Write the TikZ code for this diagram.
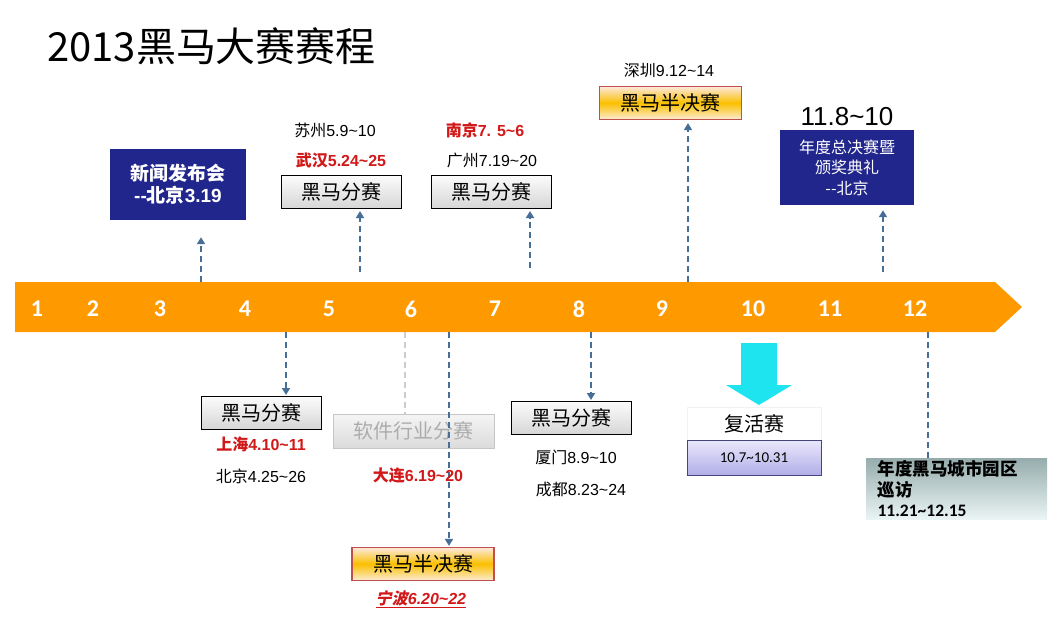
\documentclass[tikz,border=0pt]{standalone}
\usepackage{fontspec}
\setmainfont{Liberation Sans}
\newfontfamily\cjk{Noto Sans CJK SC}
\newfontfamily\cjkit[FakeSlant=0.2]{Noto Sans CJK SC}
\newfontfamily\calfont{Carlito}
\usetikzlibrary{arrows.meta}
\newcommand{\zh}[1]{{\cjk #1}}
\newcommand{\tld}{\textasciitilde}
\definecolor{bandorange}{RGB}{255,153,0}
\definecolor{navybox}{RGB}{33,38,140}
\definecolor{redtxt}{RGB}{210,25,25}
\definecolor{dashblue}{RGB}{70,110,150}
\definecolor{semired}{RGB}{192,80,77}
\definecolor{cyanarrow}{RGB}{30,228,240}
\begin{document}
\begin{tikzpicture}[x=1pt, y=-1pt,
        month/.style={text=white, font=\calfont\bfseries\fontsize{24}{26}\selectfont},
        lbl/.style={inner sep=0pt, font=\fontsize{16}{18}\selectfont},
        redlbl/.style={inner sep=0pt, text=redtxt, font=\bfseries\fontsize{16}{18}\selectfont},
        navy/.style={rectangle, fill=navybox, text=white, align=center, inner sep=0pt},
        heat/.style={rectangle, draw, line width=1pt, top color=gray!3, bottom color=gray!32, minimum width=120pt, minimum height=33pt, inner sep=0pt, font=\cjk\fontsize{20}{22}\selectfont},
        semi/.style={rectangle, draw=semired, line width=1.2pt, top color={rgb,255:red,253;green,232;blue,220}, bottom color={rgb,255:red,253;green,236;blue,215}, middle color={rgb,255:red,250;green,192;blue,0}, minimum width=142pt, minimum height=33pt, inner sep=0pt, font=\cjk\fontsize{20}{22}\selectfont},
        line/.style={draw=dashblue, line width=1.8pt, dash pattern=on 6pt off 4pt, ->, >={Stealth[length=7pt, width=8pt, inset=0pt]}},
        dline/.style={draw=dashblue, line width=1.8pt, dash pattern=on 6pt off 4pt}
    ]
        \useasboundingbox (0,0) rectangle (1058,621);
        \node[anchor=west, inner sep=0pt, font=\cjk\fontsize{40}{44}\selectfont] (title) at (47,46) {2013黑马大赛赛程};

        % timeline band
        \fill[bandorange] (15,282) -- (995,282) -- (1022,307) -- (995,332) -- (15,332) -- cycle;
        \node[month] (m1) at (37,309) {1};
        \node[month] (m2) at (93,309) {2};
        \node[month] (m3) at (160,309) {3};
        \node[month] (m4) at (245,309) {4};
        \node[month] (m5) at (329,309) {5};
        \node[month] (m6) at (411,309) {6};
        \node[month] (m7) at (495,309) {7};
        \node[month] (m8) at (579,309) {8};
        \node[month] (m9) at (662,309) {9};
        \node[month] (m10) at (753,309) {10};
        \node[month] (m11) at (830,309) {11};
        \node[month] (m12) at (915,309) {12};

        % above the band
        \node[navy, minimum width=136pt, minimum height=71pt, font=\bfseries\fontsize{19}{22}\selectfont] (press) at (178,184.5) {\zh{新闻发布会}\\-{}-\zh{北京}3.19};
        \node[lbl] (suzhou) at (335,130) {\zh{苏州}5.9\tld10};
        \node[redlbl] (wuhan) at (341,160) {\zh{武汉}5.24\tld25};
        \node[heat] (heatmay) at (341,192) {黑马分赛};
        \node[redlbl] (nanjing) at (485,130) {\zh{南京}7. 5\tld6};
        \node[lbl] (guangzhou) at (492,160) {\zh{广州}7.19\tld20};
        \node[heat] (heatjul) at (491.5,192) {黑马分赛};
        \node[lbl] (shenzhen) at (669,70) {\zh{深圳}9.12\tld14};
        \node[semi] (semisep) at (670.5,103) {黑马半决赛};
        \node[inner sep=0pt, font=\fontsize{26}{28}\selectfont] (finaldate) at (847,117) {11.8\tld10};
        \node[navy, minimum width=134pt, minimum height=75pt, font=\cjk\fontsize{16}{20.5}\selectfont] (final) at (847,167.5) {年度总决赛暨\\颁奖典礼\\-{}-北京};

        \coordinate (s3) at (201,282);
        \coordinate (s5) at (360,272);
        \coordinate (s7) at (530,268);
        \coordinate (s9) at (688,282);
        \coordinate (s11) at (883,272);
        \draw[line, shorten >=17pt] (s3) -- (s3 |- press.south);
        \draw[line, shorten >=2pt] (s5) -- (s5 |- heatmay.south);
        \draw[line, shorten >=2pt] (s7) -- (s7 |- heatjul.south);
        \draw[line, shorten >=3pt] (s9) -- (s9 |- semisep.south);
        \draw[line, shorten >=5pt] (s11) -- (s11 |- final.south);

        % below the band
        \node[heat] (heatapr) at (261,413) {黑马分赛};
        \node[redlbl] (shanghai) at (261,444) {\zh{上海}4.10\tld11};
        \node[lbl] (beijing) at (261,476) {\zh{北京}4.25\tld26};
        \coordinate (s4) at (286,332);
        \draw[line, shorten >=1pt] (s4) -- (s4 |- heatapr.north);

        \coordinate (s6a) at (405,332);
        \node[rectangle, draw=gray!45, line width=1pt, top color=gray!8, bottom color=gray!28, text=gray!65, minimum width=161pt, minimum height=34pt, inner sep=0pt, font=\cjk\fontsize{20}{22}\selectfont] (soft) at (413.5,431) {软件行业分赛};
        \draw[draw=gray!40, line width=1.8pt, dash pattern=on 6pt off 4pt] (s6a) -- (s6a |- soft.north);
        \node[semi] (semijun) at (423,564) {黑马半决赛};
        \coordinate (s6b) at (449,332);
        \draw[line, shorten >=1pt] (s6b) -- (s6b |- semijun.north);
        \node[redlbl] (dalian) at (418,476) {\zh{大连}6.19\tld20};
        \node[inner sep=0pt, text=redtxt, font=\bfseries\itshape\fontsize{16}{18}\selectfont] (ningbo) at (421,599) {\underline{{\cjkit 宁波}6.20\tld22}};

        \node[heat] (heataug) at (571.5,418) {黑马分赛};
        \node[lbl] (xiamen) at (576,457) {\zh{厦门}8.9\tld10};
        \node[lbl] (chengdu) at (581,489) {\zh{成都}8.23\tld24};
        \coordinate (s8) at (591,332);
        \draw[line, shorten >=1pt] (s8) -- (s8 |- heataug.north);

        % revival round
        \fill[cyanarrow] (741,343) -- (777,343) -- (777,385) -- (792,385) -- (759,405) -- (726,385) -- (741,385) -- cycle;
        \node[rectangle, fill=white, draw=gray!10, minimum width=134pt, minimum height=33pt, inner sep=0pt, font=\cjk\fontsize{20}{22}\selectfont] (revive) at (754,423.5) {复活赛};
        \node[rectangle, draw={rgb,255:red,70;green,70;blue,120}, line width=1pt, top color={rgb,255:red,234;green,232;blue,252}, bottom color={rgb,255:red,178;green,174;blue,232}, minimum width=134pt, minimum height=35pt, inner sep=0pt, font=\calfont\fontsize{15}{17}\selectfont] (revdate) at (754,457.5) {10.7\tld10.31};

        % park tour
        \node[rectangle, top color={rgb,255:red,150;green,172;blue,172}, bottom color={rgb,255:red,234;green,244;blue,244}, minimum width=181pt, minimum height=61pt, text width=170pt, inner sep=0pt, align=left, font=\bfseries\fontsize{17.5}{20.5}\selectfont] (tour) at (956.5,488.5) {\hspace*{6pt}\zh{年度黑马城市园区}\\\hspace*{6pt}\zh{巡访}\\\hspace*{6pt}{\calfont 11.21\tld12.15}};
        \coordinate (s12) at (928,332);
        \draw[dline] (s12) -- (s12 |- tour.north);
    \end{tikzpicture}
\end{document}
